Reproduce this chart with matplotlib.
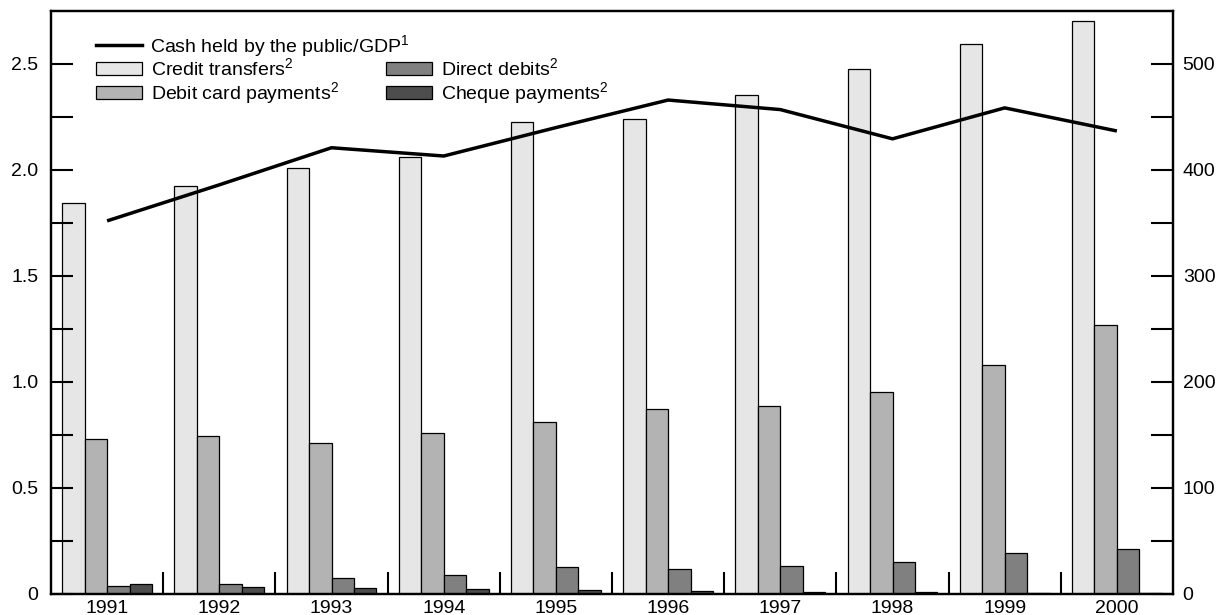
import numpy as np
import matplotlib
matplotlib.use("Agg")
import matplotlib.pyplot as plt
from matplotlib.patches import Patch
from matplotlib.lines import Line2D

plt.rcParams['font.family'] = ['Liberation Sans', 'DejaVu Sans']
plt.rcParams['mathtext.default'] = 'regular'
plt.rcParams['font.size'] = 14

years = ["1991", "1992", "1993", "1994", "1995", "1996", "1997", "1998", "1999", "2000"]

# left axis: cash held by the public / GDP
cash_gdp = [1.76, 1.93, 2.105, 2.066, 2.20, 2.33, 2.285, 2.147, 2.293, 2.184]

# right axis: payment volumes
credit_transfers = [369, 385, 402, 412, 445, 448, 471, 495, 519, 541]
debit_card = [146, 149, 142, 152, 162, 175, 177, 191, 216, 254]
direct_debits = [7.8, 9.7, 15, 18, 25.5, 24, 26, 30.5, 38.4, 42.7]
cheques = [9.4, 6.9, 6.0, 5.0, 3.5, 3.3, 2.2, 1.6, 1.2, 1.0]

colors = ["#e6e6e6", "#b3b3b3", "#808080", "#4d4d4d"]
names = [r"Credit transfers$^2$", r"Debit card payments$^2$",
         r"Direct debits$^2$", r"Cheque payments$^2$"]

fig = plt.figure(figsize=(12.21, 6.15), dpi=100)
ax = fig.add_axes([51 / 1221, 1 - 594 / 615, 1122 / 1221, 583 / 615])
ax2 = ax.twinx()

x = np.arange(len(years))
w = 0.2
for k, vals in enumerate([credit_transfers, debit_card, direct_debits, cheques]):
    ax2.bar(x + (k - 1.5) * w, vals, w, color=colors[k], edgecolor="black",
            linewidth=0.9)

ax.plot(x, cash_gdp, color="black", linewidth=2.5, solid_capstyle="butt")

ax.set_zorder(ax2.get_zorder() + 1)
ax.patch.set_visible(False)

ax.set_xlim(-0.5, len(years) - 0.5)
ax.set_ylim(0, 2.75)
ax2.set_ylim(0, 550)

# x ticks at group boundaries, labels at centres
ax.set_xticks(np.arange(0.5, len(years) - 1, 1.0))
ax.set_xticklabels([])
ax.set_xticks(x, minor=True)
ax.set_xticklabels(years, minor=True)
ax.tick_params(axis="x", which="major", direction="in", length=16, width=1.5)
ax.tick_params(axis="x", which="minor", length=0, pad=4)

lt = np.arange(0, 2.51, 0.25)
ax.set_yticks(lt)
ax.set_yticklabels(["0" if v == 0 else (f"{v:.1f}" if abs(v * 2 - round(v * 2)) < 1e-9 else "") for v in lt])
ax.tick_params(axis="y", direction="in", length=16, width=1.5, pad=9)

rt = np.arange(0, 501, 50)
ax2.set_yticks(rt)
ax2.set_yticklabels([str(int(v)) if v % 100 == 0 else "" for v in rt])
ax2.tick_params(axis="y", direction="in", length=16, width=1.5, pad=7)

for a in (ax, ax2):
    for s in a.spines.values():
        s.set_linewidth(1.6)

line_handle = [Line2D([], [], color="black", linewidth=2.5)]
leg1 = ax.legend(line_handle, [r"Cash held by the public/GDP$^1$"], loc="upper left",
                 bbox_to_anchor=(0.040, 0.962), frameon=False, handlelength=2.35,
                 handletextpad=0.45, borderaxespad=0, borderpad=0)
ax.add_artist(leg1)
bar_handles = [Patch(facecolor=c, edgecolor="black", linewidth=0.9) for c in colors]
ax.legend(bar_handles, names, ncol=2, loc="upper left",
          bbox_to_anchor=(0.040, 0.921), frameon=False, handlelength=2.35,
          handleheight=0.67, handletextpad=0.5, columnspacing=2.4,
          labelspacing=0.06, borderaxespad=0, borderpad=0)

fig.savefig("out.png", dpi=100)
